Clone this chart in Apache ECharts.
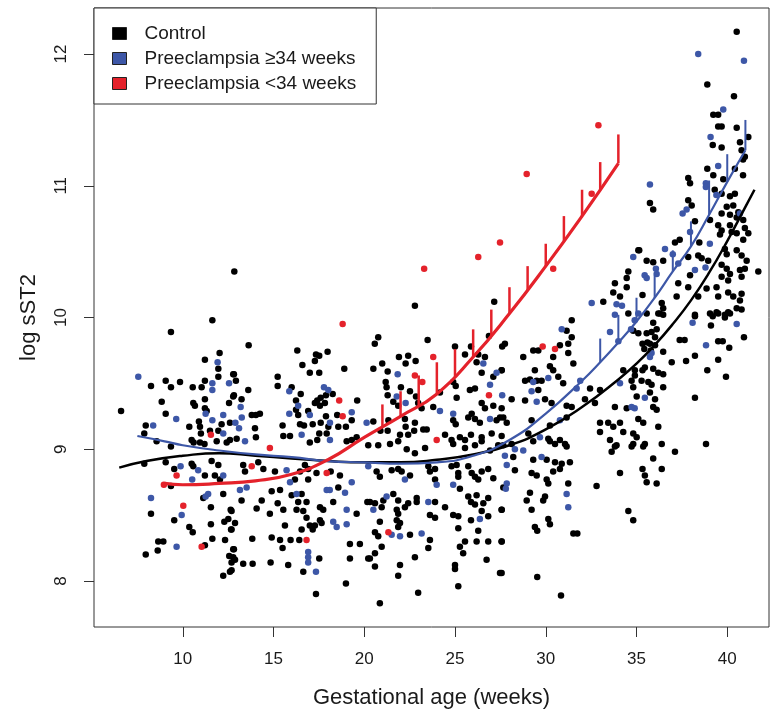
<!DOCTYPE html>
<html><head><meta charset="utf-8">
<script src="https://cdn.jsdelivr.net/npm/echarts@6/dist/echarts.min.js"></script>
<style>html,body{margin:0;padding:0;background:#fff}#c{width:771px;height:720px}</style>
</head><body><div id="c"></div>
<script>
// ---------- data (week, log sST2) ----------
const xTicks = [10, 15, 20, 25, 30, 35, 40];
const yTicks = [8, 9, 10, 11, 12];
const legendNames = ['Control', 'Preeclampsia ≥34 weeks', 'Preeclampsia <34 weeks'];

const controlPoints = [
[12.84,10.35],[11.63,9.98],[9.35,9.89],[12.03,9.73],[11.22,9.68],[11.96,9.61],[11.96,9.55],[9.06,9.52],[8.25,9.48],[9.35,9.47],[9.85,9.51],[10.55,9.47],[11.04,9.47],[11.22,9.52],[12.78,9.57],[12.78,9.40],[8.84,9.36],[10.58,9.35],[10.67,9.33],[11.22,9.38],[11.22,9.31],[6.6,9.29],[9.06,9.27],[11.32,9.29],[12.55,9.35],[7.96,9.18],[10.36,9.17],[10.89,9.21],[10.95,9.17],[12.14,9.19],[12.6,9.20],[11.5,9.14],[11.96,9.14],[7.88,9.12],[11.0,9.12],[12.6,9.07],[10.49,9.07],[8.56,9.06],[9.35,9.02],[11.87,9.06],[12.42,9.05],[10.95,9.05],
[10.6,9.05],[11.2,9.04],[7.88,8.89],[9.06,8.90],[9.53,8.85],[10.49,8.89],[10.58,8.87],[11.22,8.80],[11.77,8.80],[11.59,8.91],[11.96,8.88],[12.05,8.77],[9.35,8.72],[11.13,8.63],[12.23,8.66],[11.55,8.56],[12.64,8.54],[8.25,8.51],[9.53,8.46],[10.36,8.41],[10.55,8.37],[11.55,8.43],[12.29,8.45],[12.51,8.47],[12.66,8.39],[8.65,8.30],[8.93,8.30],[8.62,8.23],[7.96,8.20],[11.22,8.27],[11.63,8.32],[12.33,8.31],[12.78,8.24],[12.56,8.19],[12.69,8.14],[12.6,8.07],[12.23,8.04],
[13.63,9.79],[16.31,9.75],[17.34,9.72],[17.52,9.71],[17.98,9.74],[16.59,9.64],[17.28,9.67],[18.9,9.61],[17.0,9.58],[17.52,9.58],[12.82,9.57],[15.23,9.55],[12.93,9.52],[15.23,9.48],[13.61,9.45],[16.0,9.47],[16.5,9.42],[18.26,9.42],[12.82,9.41],[13.24,9.38],[19.61,9.37],[16.24,9.37],[17.41,9.37],[17.6,9.39],[17.89,9.41],[17.28,9.35],[17.56,9.33],[17.83,9.35],[13.8,9.26],[14.03,9.26],[14.25,9.27],[16.24,9.30],[16.36,9.26],[16.91,9.29],[17.89,9.25],[18.51,9.26],[19.31,9.22],[15.5,9.18],[16.46,9.19],[16.68,9.18],[17.16,9.19],[17.6,9.20],[18.02,9.17],[18.57,9.17],[18.99,9.17],[13.98,9.16],[14.03,9.09],[17.52,9.12],[17.93,9.12],[15.54,9.10],[15.91,9.10],[12.97,9.08],[17.0,9.05],[17.41,9.07],[19.03,9.06],[19.31,9.07],[19.58,9.09],
[13.33,8.88],[14.16,8.90],[13.43,8.83],[14.44,8.85],[15.08,8.83],[16.46,8.83],[16.73,8.88],[16.91,8.85],[17.37,8.82],[18.15,8.83],[18.66,8.80],[16.18,8.77],[16.91,8.77],[14.9,8.68],[15.36,8.69],[16.0,8.65],[16.55,8.66],[18.57,8.71],[20.17,8.60],[13.24,8.61],[14.35,8.61],[15.23,8.59],[16.36,8.60],[16.82,8.60],[17.56,8.56],[18.29,8.60],[14.07,8.55],[14.8,8.51],[15.54,8.54],[16.27,8.54],[16.64,8.53],[17.74,8.54],[19.58,8.51],[12.69,8.53],[16.82,8.48],[17.56,8.46],[17.65,8.44],[15.63,8.42],[17.28,8.42],[17.0,8.42],[12.69,8.39],[12.88,8.44],[17.16,8.39],[16.55,8.39],[13.83,8.32],[14.9,8.33],[15.36,8.31],[15.94,8.31],[16.42,8.31],[15.5,8.25],[12.82,8.24],[19.21,8.28],[19.76,8.28],[12.78,8.18],[12.88,8.16],[17.52,8.17],[19.21,8.17],[20.22,8.17],[13.33,8.13],[13.85,8.13],[14.84,8.14],[15.81,8.12],[12.69,8.08],[16.64,8.07],[18.99,7.98],[17.34,7.90],
[22.79,10.09],[27.16,10.12],[20.77,9.85],[20.58,9.80],[23.49,9.83],[26.87,9.86],[20.5,9.61],[20.99,9.65],[21.91,9.70],[22.42,9.71],[22.83,9.67],[22.28,9.65],[25.0,9.78],[25.55,9.72],[25.88,9.78],[26.28,9.72],[27.6,9.78],[26.65,9.70],[26.19,9.66],[21.29,9.59],[21.18,9.51],[21.23,9.47],[22.02,9.47],[24.9,9.51],[25.04,9.48],[26.47,9.58],[27.11,9.55],[27.57,9.60],[21.29,9.41],[22.52,9.44],[22.85,9.40],[24.17,9.43],[25.09,9.39],[25.82,9.45],[26.1,9.46],[21.6,9.36],[21.87,9.33],[22.97,9.35],[23.16,9.31],[23.8,9.32],[25.92,9.27],[26.47,9.35],[26.65,9.31],[27.11,9.33],[27.57,9.31],[20.5,9.21],[21.33,9.22],[22.24,9.23],[22.28,9.17],[22.79,9.20],[23.25,9.15],[23.44,9.15],[24.9,9.22],[25.04,9.19],[25.73,9.24],[26.1,9.23],[26.37,9.20],[27.29,9.22],[27.66,9.24],[20.89,9.14],[21.29,9.14],[21.97,9.11],[22.42,9.11],[22.75,9.14],[24.45,9.11],[24.81,9.07],[25.27,9.09],[25.55,9.07],[25.88,9.11],[26.47,9.09],[27.02,9.12],[27.57,9.10],
[20.22,9.03],[20.77,9.03],[21.42,9.04],[21.87,9.06],[22.34,9.00],[22.79,8.97],[23.35,9.01],[24.9,9.04],[25.55,9.01],[26.1,9.03],[26.47,9.06],[26.93,8.99],[27.38,9.03],
[20.68,8.83],[20.86,8.79],[21.51,8.84],[21.87,8.85],[22.06,8.83],[22.52,8.80],[23.53,8.87],[23.62,8.83],[23.9,8.85],[23.9,8.77],[24.81,8.87],[25.09,8.88],[25.18,8.82],[25.18,8.79],[25.27,8.70],[25.73,8.87],[25.92,8.82],[26.1,8.79],[26.28,8.77],[26.47,8.83],[26.83,8.85],[27.11,8.78],[27.66,8.71],
[20.31,8.60],[20.59,8.59],[20.96,8.56],[21.05,8.61],[21.6,8.66],[21.87,8.61],[21.79,8.54],[21.87,8.51],[22.24,8.56],[22.42,8.59],[22.89,8.63],[22.89,8.60],[23.9,8.60],[23.62,8.50],[23.9,8.48],[24.45,8.56],[24.9,8.50],[25.18,8.49],[25.73,8.64],[25.88,8.60],[26.1,8.58],[26.19,8.65],[26.56,8.59],[26.83,8.63],[26.83,8.49],[25.88,8.46],[27.57,8.54],[26.47,8.53],
[20.86,8.45],[21.97,8.44],[21.87,8.41],[21.79,8.46],[20.59,8.37],[20.77,8.34],[22.52,8.35],[23.62,8.31],[23.53,8.25],[25.18,8.40],[25.55,8.30],[25.27,8.26],[25.45,8.21],[26.28,8.38],[26.19,8.30],[26.83,8.30],[27.57,8.30],[20.31,8.17],[20.96,8.26],[20.59,8.21],[22.79,8.18],[21.97,8.12],[20.59,8.11],[21.87,8.04],[25.0,8.12],[25.0,8.09],[22.97,7.91],[25.18,7.96],[20.86,7.83],[27.48,8.06],[26.74,8.16],
[35.1,10.51],[34.55,10.35],[34.46,10.30],[33.81,10.26],[34.46,10.23],[33.72,10.19],[34.09,10.16],[33.17,10.12],[34.55,10.03],[31.43,9.98],[31.15,9.90],[31.43,9.85],[27.75,9.80],[29.31,9.75],[29.59,9.75],[30.78,9.79],[31.24,9.80],[28.76,9.70],[30.41,9.70],[31.24,9.73],[31.52,9.65],[27.57,9.60],[29.4,9.60],[30.23,9.63],[30.41,9.60],[28.86,9.52],[29.13,9.53],[29.5,9.52],[29.77,9.52],[30.69,9.55],[30.96,9.50],[32.44,9.46],[32.99,9.45],[29.59,9.45],[34.27,9.60],[34.91,9.60],[28.12,9.38],[28.86,9.37],[29.96,9.38],[30.32,9.35],[31.15,9.33],[31.43,9.32],[32.16,9.38],[32.71,9.35],[33.81,9.32],[34.46,9.31],[27.48,9.24],[27.85,9.20],[29.22,9.22],[30.23,9.18],[31.15,9.24],[32.99,9.20],[33.44,9.20],[33.72,9.17],[34.09,9.20],[34.27,9.13],[32.99,9.13],[29.04,9.12],[30.14,9.08],[30.78,9.07],[31.06,9.04],[33.54,9.07],[33.9,9.03],[34.82,9.04],[27.66,9.03],[28.12,9.04],
[29.31,9.06],[30.23,9.06],[30.51,9.04],[31.15,9.02],[28.21,8.94],[28.3,8.84],[29.31,8.92],[30.05,8.92],[30.51,8.90],[30.88,8.89],[31.33,8.90],[30.78,8.85],[30.41,8.83],[29.22,8.82],[29.5,8.80],[30.05,8.77],[30.14,8.74],[31.24,8.74],[29.13,8.67],[28.95,8.61],[29.86,8.61],[29.96,8.64],[29.22,8.54],[27.57,8.54],[32.8,8.72],[34.09,8.82],[33.63,8.98],[33.81,9.02],[34.55,8.53],[34.82,8.46],[30.14,8.47],[30.23,8.43],[29.4,8.41],[29.53,8.38],[31.52,8.36],[31.74,8.36],[27.57,8.30],[27.57,8.06],[29.53,8.03],[30.84,7.89],
[40.52,12.17],[38.9,11.77],[40.37,11.68],[39.23,11.54],[39.5,11.54],[39.5,11.45],[39.69,11.45],[40.52,11.44],[41.16,11.37],[39.2,11.31],[39.69,11.29],[40.7,11.33],[40.79,11.27],[40.97,11.22],[40.87,11.20],[38.9,11.13],[40.42,11.13],[39.23,11.08],[40.87,11.08],[37.85,11.06],[37.95,11.02],[39.78,11.05],[39.31,10.97],[39.69,10.94],[40.15,10.92],[40.42,10.94],[35.74,10.87],[35.92,10.82],[37.85,10.89],[38.04,10.85],[39.97,10.84],[40.33,10.85],[40.61,10.80],[40.15,10.78],[40.52,10.76],[40.88,10.74],[38.22,10.73],[39.05,10.74],[39.69,10.79],[39.5,10.70],[39.69,10.66],[39.6,10.63],[40.15,10.70],[40.24,10.65],[40.52,10.64],[40.97,10.68],[41.16,10.64],[40.88,10.59],[37.12,10.57],[37.38,10.59],[38.46,10.57],[35.15,10.51],[39.87,10.52],[39.97,10.48],[40.52,10.51],[40.79,10.47],[41.07,10.43],[37.85,10.46],[38.4,10.47],[38.59,10.45],[35.56,10.43],[35.92,10.42],[36.47,10.43],[38.95,10.43],[37.95,10.32],[39.69,10.40],[39.97,10.37],[40.15,10.33],[39.69,10.31],[40.05,10.28],[40.7,10.36],[40.79,10.31],[40.97,10.37],[41.71,10.35],[37.3,10.26],[37.85,10.23],[38.4,10.16],[38.86,10.22],[39.41,10.23],[39.5,10.16],[40.05,10.19],[40.33,10.16],[40.79,10.18],[40.7,10.13],[35.33,10.17],[36.39,10.11],[36.47,10.07],[36.2,10.03],[37.21,10.16],[38.22,10.02],[39.05,10.03],[39.41,10.04],[39.87,10.00],[40.15,10.03],[40.52,10.07],[40.79,10.06],[35.56,10.03],
[36.29,10.03],[36.47,10.02],[38.22,10.01],[39.1,9.94],[39.2,10.01],[39.5,10.03],[39.87,10.02],[40.05,10.04],[35.92,9.96],[36.11,9.91],[34.82,9.90],[35.1,9.88],[35.56,9.88],[35.83,9.89],[36.02,9.85],[37.38,9.83],[37.65,9.83],[39.5,9.82],[39.75,9.82],[40.92,9.85],[40.11,9.77],[35.33,9.80],[35.6,9.81],[35.74,9.80],[36.02,9.79],[35.43,9.76],[35.79,9.75],[36.47,9.74],[38.22,9.71],[37.73,9.67],[36.94,9.66],[39.5,9.68],[38.9,9.60],[39.93,9.55],[35.46,9.62],[35.92,9.61],[35.33,9.60],[36.2,9.58],[36.47,9.57],[34.91,9.56],[35.28,9.52],[35.65,9.51],[35.83,9.49],[34.73,9.52],[36.47,9.47],[34.82,9.47],[35.74,9.43],[36.02,9.38],[35.01,9.40],[35.92,9.32],[36.11,9.30],[35.1,9.23],[35.37,9.20],[34.82,9.12],[36.2,9.17],[35.01,9.09],[35.46,9.04],[34.73,9.02],[36.39,9.04],[35.37,9.02],[37.12,8.98],[35.92,8.93],[38.83,9.04],[38.22,9.39],[35.33,8.85],[36.39,8.85],[35.46,8.80],[35.56,8.75],[36.11,8.74]
];

const preLatePoints = [
[7.55,9.55],[11.92,9.66],[11.63,9.50],[11.63,9.45],[12.55,9.50],[11.26,9.27],[12.23,9.26],[9.64,9.23],[8.37,9.18],[11.63,9.22],[12.23,9.12],
[9.88,8.87],[10.85,8.84],[10.52,8.77],[12.23,8.80],[11.4,8.66],[11.26,8.64],[8.25,8.63],[9.94,8.50],[9.66,8.26],
[15.87,9.44],[17.78,9.47],[18.02,9.45],[16.36,9.33],[13.19,9.32],[13.25,9.24],[15.87,9.27],[17.0,9.26],[19.31,9.28],[12.9,9.20],[13.1,9.16],[18.11,9.20],[16.55,9.11],[13.43,9.06],[18.11,9.07],
[15.72,8.84],[15.91,8.75],[19.31,8.75],[13.15,8.69],[13.52,8.71],[16.27,8.66],[17.93,8.69],[18.1,8.69],[18.94,8.67],[19.03,8.54],[18.29,8.45],[18.48,8.41],[19.03,8.43],[16.91,8.22],[16.91,8.18],[16.91,8.14],[17.34,8.07],
[26.56,9.65],[21.84,9.57],[27.29,9.58],[21.79,9.40],[26.93,9.49],[27.6,9.41],[22.28,9.35],[24.17,9.29],[24.9,9.27],[20.13,9.20],[26.93,9.23],
[20.22,8.87],[22.24,8.77],[23.99,8.73],[24.9,8.73],[20.5,8.54],[21.23,8.64],[23.53,8.60],[26.37,8.47],[21.51,8.35],[21.97,8.34],[23.16,8.36],
[34.82,10.46],[32.53,10.11],[33.9,10.10],[34.2,10.09],[33.81,10.02],[34.9,9.98],[30.88,9.91],[33.54,9.89],[34.0,9.82],[34.7,9.91],[29.31,9.51],[30.14,9.54],[31.7,9.46],[31.9,9.52],[29.22,9.44],[34.09,9.50],[29.5,9.36],[34.9,9.31],[30.78,9.22],[29.68,9.09],
[28.3,9.00],[28.76,8.99],[27.75,8.95],[27.85,8.88],[29.77,8.94],[27.85,8.74],[27.8,8.70],[31.15,8.66],[31.24,8.56],
[38.4,12.0],[40.92,11.95],[39.78,11.58],[39.08,11.37],[39.5,11.15],[35.74,11.01],[38.82,11.02],[38.82,10.99],[39.4,10.93],[40.7,10.79],[37.54,10.79],[37.76,10.82],[37.95,10.65],[39.04,10.56],[36.57,10.52],[37.0,10.48],[35.45,10.32],[35.56,10.30],[36.07,10.37],[36.11,10.33],[37.3,10.41],[38.22,10.36],[38.8,10.38],
[35.1,10.03],[38.09,9.96],[40.52,9.95],[38.83,9.79],[35.83,9.73],[35.74,9.70],[35.46,9.39],[34.73,9.32]
];

const preEarlyPoints = [
[11.55,9.11],[9.66,8.80],[8.96,8.73],[10.03,8.57],[11.04,8.26],
[18.81,9.95],[18.62,9.37],[18.81,9.25],[14.8,9.01],[13.8,8.87],[17.93,8.82],[16.82,8.31],
[23.3,10.37],[26.28,10.46],[27.48,10.57],[23.8,9.70],[22.79,9.56],[23.2,9.51],[26.87,9.41],[23.99,9.07],[21.33,8.37],
[28.95,11.09],[32.53,10.94],[30.41,10.37],[29.83,9.78],[30.51,9.76],[32.9,11.46]
];

// fitted curves
const controlFitWeeks = [6.5,8,10,12,14,16,18,20,22,24,26,28,30,32,34,35,36,37,38,39,40,41,41.5];
const controlFit      = [8.86,8.91,8.95,8.97,8.95,8.93,8.91,8.90,8.90,8.92,8.96,9.03,9.15,9.32,9.53,9.65,9.79,9.95,10.13,10.34,10.58,10.84,10.97];
const lateFitWeeks = [7.5,9,10,12,14,16,18,20,22,24,26,28,30,32,33,34,35,36,37,38,39,40,41];
const lateFit      = [9.10,9.06,9.03,8.99,8.96,8.94,8.91,8.90,8.89,8.90,8.95,9.07,9.27,9.52,9.66,9.81,9.97,10.15,10.35,10.54,10.78,11.03,11.27];
const earlyFitWeeks = [9,10,12,14,16,18,20,22,24,26,28,30,32,34];
const earlyFit      = [8.74,8.73,8.74,8.76,8.81,8.92,9.09,9.25,9.42,9.70,10.03,10.39,10.77,11.17];

// upper confidence bars
const earlyBarWeeks = [21,22,23,24,25,26,27,28,29,30,31,32,33,34];
const earlyBarLow   = [9.17,9.25,9.33,9.42,9.55,9.70,9.86,10.03,10.21,10.39,10.58,10.77,10.97,11.17];
const earlyBarHigh  = [9.34,9.44,9.56,9.66,9.76,9.91,10.06,10.23,10.39,10.56,10.77,10.97,11.18,11.39];
const lateBarWeeks = [33,34,35,36,37,38,39,40,41];
const lateBarLow   = [9.66,9.81,9.97,10.15,10.35,10.54,10.78,11.03,11.27];
const lateBarHigh  = [9.84,10.02,10.15,10.32,10.51,10.73,11.04,11.24,11.50];

// ---------- chart ----------
const BLACK = '#000000', BLUE = '#3d57a7', RED = '#e4222b';
const FONT = 'Liberation Sans, Arial, Helvetica, sans-serif';
const zip = (a, b) => a.map((v, i) => [v, b[i]]);
const bars = (w, lo, hi) => w.map((v, i) => [v, lo[i], hi[i]]);
function barSeries(data, color, width) {
  return {
    type: 'custom', silent: true, z: 6,
    data: data, encode: { x: 0, y: [1, 2] },
    renderItem: function (params, api) {
      const p1 = api.coord([api.value(0), api.value(1)]);
      const p2 = api.coord([api.value(0), api.value(2)]);
      return { type: 'line', shape: { x1: p1[0], y1: p1[1], x2: p2[0], y2: p2[1] },
               style: { stroke: color, lineWidth: width } };
    }
  };
}

const chart = echarts.init(document.getElementById('c'), null, { renderer: 'canvas' });
chart.setOption({
  animation: false,
  backgroundColor: '#ffffff',
  textStyle: { fontFamily: FONT },
  grid: { left: 94, right: 2, top: 8, bottom: 93, show: true, borderColor: '#333', borderWidth: 1, backgroundColor: 'transparent' },
  legend: {
    left: 94, top: 8, orient: 'vertical', icon: 'rect',
    itemWidth: 14, itemHeight: 12, itemGap: 6,
    padding: [16, 20, 11, 18],
    backgroundColor: '#fff', borderColor: '#333', borderWidth: 1, borderRadius: 0,
    itemStyle: { borderColor: '#222', borderWidth: 1, opacity: 1 },
    textStyle: { fontSize: 19, color: '#1a1a1a', fontFamily: FONT, padding: [0, 0, 0, 13] },
    data: legendNames, selectedMode: false
  },
  xAxis: {
    type: 'value', min: 5.11, max: 42.3,
    axisLine: { show: false }, splitLine: { show: false },
    axisTick: { show: true, customValues: xTicks, length: 10, lineStyle: { color: '#333', width: 1 } },
    axisLabel: { customValues: xTicks, fontSize: 17, color: '#1a1a1a', margin: 24, fontFamily: FONT },
    name: 'Gestational age (weeks)', nameLocation: 'middle', nameGap: 60,
    nameTextStyle: { fontSize: 22, color: '#1a1a1a', fontFamily: FONT }
  },
  yAxis: {
    type: 'value', min: 7.65, max: 12.35,
    axisLine: { show: false }, splitLine: { show: false },
    axisTick: { show: true, customValues: yTicks, length: 10, lineStyle: { color: '#333', width: 1 } },
    axisLabel: { customValues: yTicks, fontSize: 17, color: '#1a1a1a', margin: 24, rotate: 90, fontFamily: FONT },
    name: 'log sST2', nameLocation: 'middle', nameGap: 54, nameRotate: 90,
    nameTextStyle: { fontSize: 22, color: '#1a1a1a', fontFamily: FONT }
  },
  series: [
    { name: legendNames[0], type: 'scatter', data: controlPoints, symbolSize: 6.5, itemStyle: { color: BLACK, opacity: 1 }, z: 2, silent: true },
    { name: legendNames[1], type: 'scatter', data: preLatePoints, symbolSize: 6.5, itemStyle: { color: BLUE, opacity: 1 }, z: 3, silent: true },
    { name: legendNames[2], type: 'scatter', data: preEarlyPoints, symbolSize: 6.5, itemStyle: { color: RED, opacity: 1 }, z: 4, silent: true },
    { name: 'controlFit', type: 'line', data: zip(controlFitWeeks, controlFit), smooth: 0.5, showSymbol: false, lineStyle: { color: BLACK, width: 2.5 }, z: 5, silent: true },
    { name: 'lateFit', type: 'line', data: zip(lateFitWeeks, lateFit), smooth: 0.5, showSymbol: false, lineStyle: { color: BLUE, width: 2.2 }, z: 6, silent: true },
    { name: 'earlyFit', type: 'line', data: zip(earlyFitWeeks, earlyFit), smooth: 0.5, showSymbol: false, lineStyle: { color: RED, width: 3.2 }, z: 7, silent: true },
    barSeries(bars(lateBarWeeks, lateBarLow, lateBarHigh), BLUE, 2),
    barSeries(bars(earlyBarWeeks, earlyBarLow, earlyBarHigh), RED, 2.5)
  ]
});
</script>
</body></html>
